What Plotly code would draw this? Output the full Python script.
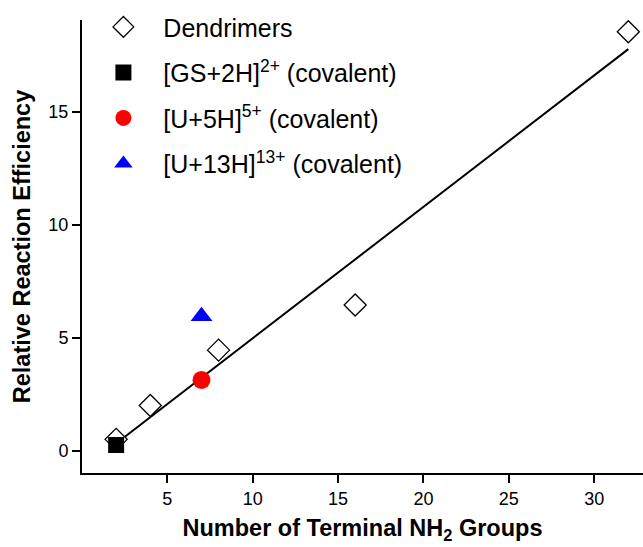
import plotly.graph_objects as go

# Data
dend_x = [2, 4, 8, 16, 32]
dend_y = [0.5, 2.0, 4.45, 6.45, 18.55]
gs_x = [2]
gs_y = [0.25]
u5_x = [7]
u5_y = [3.13]
u13_x = [7]
u13_y = [5.95]
fit_x = [2, 32]
fit_y = [0.32, 17.78]
names = ["Dendrimers",
         "[GS+2H]<sup>2+</sup> (covalent)",
         "[U+5H]<sup>5+</sup> (covalent)",
         "[U+13H]<sup>13+</sup> (covalent)"]

FONT = "Liberation Sans, Arial, sans-serif"
PAD = "\u00a0"

fig = go.Figure()
fig.add_trace(go.Scatter(x=fit_x, y=fit_y, mode="lines",
                         line=dict(color="black", width=2), showlegend=False))
fig.add_trace(go.Scatter(x=dend_x, y=dend_y, mode="markers", name=PAD + names[0],
                         legendgroup="a",
                         marker=dict(symbol="diamond", size=17, color="white",
                                     line=dict(color="black", width=1.3))))
fig.add_trace(go.Scatter(x=gs_x, y=gs_y, mode="markers",
                         name=PAD + names[1], legendgroup="b",
                         marker=dict(symbol="square", size=16, color="black",
                                     line=dict(width=0))))
fig.add_trace(go.Scatter(x=u5_x, y=u5_y, mode="markers",
                         name=PAD + names[2], legendgroup="c",
                         marker=dict(symbol="circle", size=18, color="#ff0000",
                                     line=dict(width=0))))
fig.add_trace(go.Scatter(x=u13_x, y=u13_y, mode="markers",
                         name=PAD + names[3], legendgroup="d",
                         marker=dict(symbol="triangle-up", size=19, color="#0000ff",
                                     line=dict(width=0))))

fig.update_layout(
    width=643, height=547,
    margin=dict(l=82, r=0, t=20, b=74),
    plot_bgcolor="white", paper_bgcolor="white",
    font=dict(family=FONT, color="black", size=18),
    showlegend=True,
    legend=dict(x=0.015, y=1.035, xanchor="left", yanchor="top",
                font=dict(size=25, family=FONT), tracegroupgap=10,
                bgcolor="rgba(0,0,0,0)", itemwidth=56),
    xaxis=dict(range=[0, 32.86], tickvals=[5, 10, 15, 20, 25, 30],
               showline=True, linecolor="black", linewidth=2,
               ticks="outside", ticklen=8, tickwidth=2, tickcolor="black",
               showgrid=False, zeroline=False,
               tickfont=dict(size=18),
               title=dict(text="<b>Number of Terminal NH<sub>2</sub> Groups</b>",
                          font=dict(size=23.5), standoff=12)),
    yaxis=dict(range=[-0.99, 19.07], tickvals=[0, 5, 10, 15],
               showline=True, linecolor="black", linewidth=2,
               ticks="outside", ticklen=8, tickwidth=2, tickcolor="black",
               showgrid=False, zeroline=False,
               tickfont=dict(size=18),
               title=dict(text="<b>Relative Reaction Efficiency</b>",
                          font=dict(size=23.5), standoff=11)),
)

fig.write_html("out.html")
